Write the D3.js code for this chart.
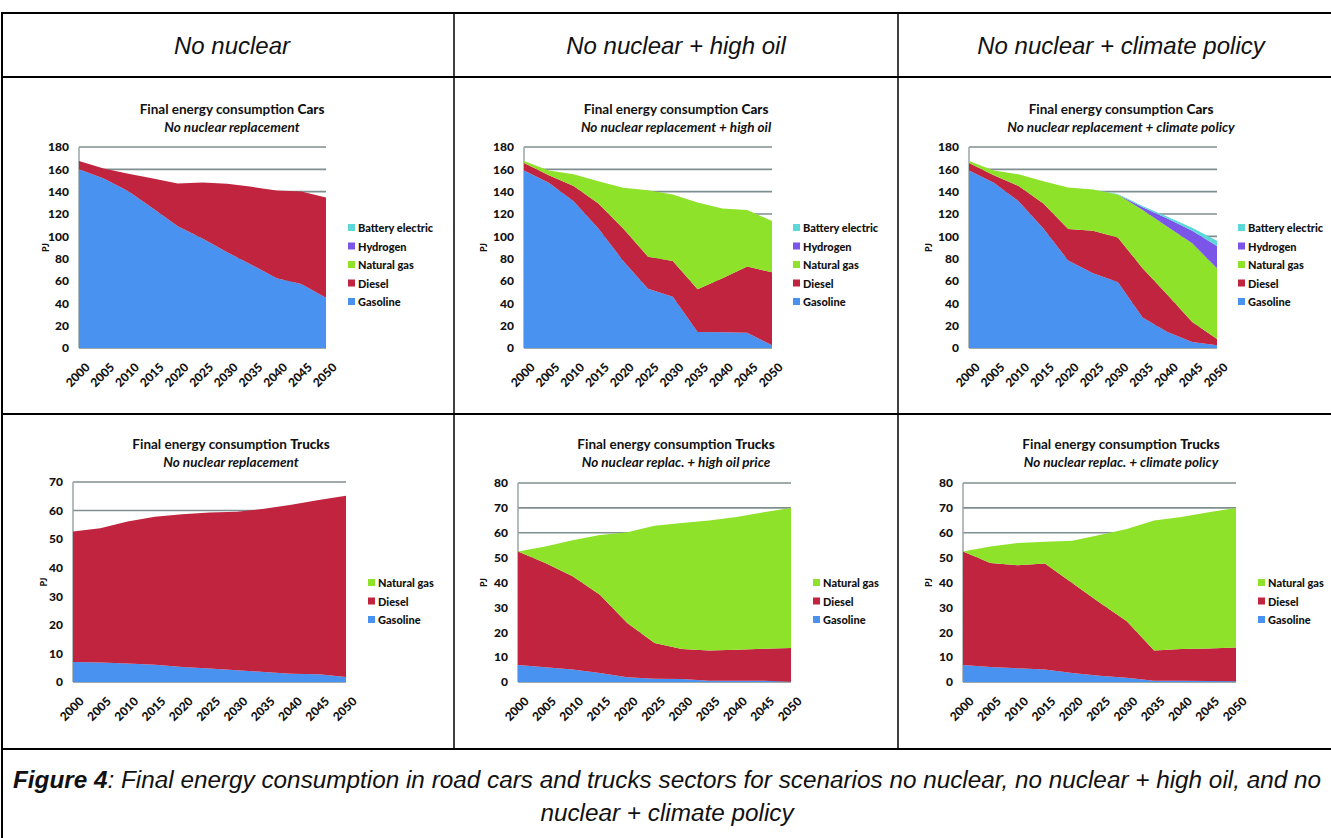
<!DOCTYPE html>
<html>
<head>
<meta charset="utf-8">
<script src="https://cdn.jsdelivr.net/npm/d3@7"></script>
<style>
  body { margin: 0; background: #fff; }
  svg { display: block; }
  .chart text { font-family: Lato, "Open Sans", sans-serif; fill: #111; }
  .cell text { font-family: "Liberation Sans", Arial, sans-serif; fill: #111; }
</style>
</head>
<body>
<svg width="1331" height="838"></svg>
<script>
// years on the x axis
var years = [2000, 2005, 2010, 2015, 2020, 2025, 2030, 2035, 2040, 2045, 2050];

// series names, bottom to top of the stack
var seriesNames = ["Gasoline", "Diesel", "Natural gas", "Hydrogen", "Battery electric"];
var truckSeries = ["Gasoline", "Diesel", "Natural gas"];

var headers = ["No nuclear", "No nuclear + high oil", "No nuclear + climate policy"];

// cars - no nuclear replacement (PJ)
var carsNN_gasoline = [160, 151.7, 140.4, 125, 109, 98, 85.7, 74.4, 62.5, 57.4, 45];
var carsNN_diesel   = [7.5, 9, 15.6, 26.7, 38.3, 50.2, 61.3, 69.9, 78.5, 82.7, 89.8];
var carsNN_gas      = [0, 0, 0, 0, 0, 0, 0, 0, 0, 0, 0];
var carsNN_h2       = [0, 0, 0, 0, 0, 0, 0, 0, 0, 0, 0];
var carsNN_bev      = [0, 0, 0, 0, 0, 0, 0, 0, 0, 0, 0];

// cars - no nuclear + high oil
var carsHO_gasoline = [159, 148, 131.5, 107, 78, 53, 46, 14.3, 14, 13.7, 2.4];
var carsHO_diesel   = [6.7, 6.7, 13.5, 22.4, 29, 28.8, 32, 38.4, 48.5, 59.3, 65.4];
var carsHO_gas      = [1.8, 4.3, 10.6, 20, 36.4, 59.5, 59.5, 77.6, 62.5, 50.5, 45.9];
var carsHO_h2       = [0, 0, 0, 0, 0, 0, 0, 0, 0, 0, 0];
var carsHO_bev      = [0, 0, 0, 0, 0, 0, 0, 0, 0, 0, 0];

// cars - no nuclear + climate policy
var carsCP_gasoline = [159, 148, 131.5, 107, 78.3, 67, 59, 27.4, 14.3, 5.4, 2.4];
var carsCP_diesel   = [6.7, 6.7, 13.5, 22.4, 28.2, 38, 40, 44, 33.3, 17.8, 5.6];
var carsCP_gas      = [1.8, 4.3, 10.6, 20, 37.2, 37, 38.5, 52.1, 61, 70.5, 63.4];
var carsCP_h2       = [0, 0, 0, 0, 0, 0, 0, 2.5, 7.4, 11.3, 19.9];
var carsCP_bev      = [0, 0, 0, 0, 0, 0, 0.5, 1.2, 1.5, 2.7, 4.7];

// trucks - no nuclear replacement
var trucksNN_gasoline = [7, 6.8, 6.5, 6, 5.25, 4.7, 4.1, 3.5, 2.9, 2.7, 1.75];
var trucksNN_diesel   = [45.7, 47, 49.7, 51.8, 53.45, 54.6, 55.5, 57.1, 59.1, 61, 63.45];
var trucksNN_gas      = [0, 0, 0, 0, 0, 0, 0, 0, 0, 0, 0];

// trucks - no nuclear + high oil price
var trucksHO_gasoline = [6.8, 5.9, 5, 3.6, 1.9, 1.3, 1.2, 0.5, 0.5, 0.5, 0.1];
var trucksHO_diesel   = [45.7, 41.9, 37.5, 31.5, 21.8, 14.4, 12.1, 12.2, 12.5, 12.9, 13.6];
var trucksHO_gas      = [0, 6.7, 14.5, 24, 36.5, 47.1, 50.6, 52.2, 53.3, 54.8, 56.3];

// trucks - no nuclear + climate policy
var trucksCP_gasoline = [6.8, 6, 5.5, 5, 3.6, 2.5, 1.7, 0.5, 0.5, 0.4, 0.3];
var trucksCP_diesel   = [45.7, 41.8, 41.4, 42.6, 36.2, 29.5, 22.7, 12.2, 12.8, 13.1, 13.6];
var trucksCP_gas      = [0, 6.7, 9, 8.8, 17, 27.1, 37.1, 52.2, 53, 54.7, 56.1];

var colors = {
    "Gasoline": "#4a92f0",
    "Diesel": "#c0243f",
    "Natural gas": "#8fe22a",
    "Hydrogen": "#7a55e8",
    "Battery electric": "#5cd8d8"
};

function rows(keys, cols) {
    return years.map(function(y, i) {
        var r = { year: y };
        keys.forEach(function(k, j) { r[k] = cols[j][i]; });
        return r;
    });
}

var panels = [
    { title: "Cars", sub: "No nuclear replacement", keys: seriesNames,
      data: rows(seriesNames, [carsNN_gasoline, carsNN_diesel, carsNN_gas, carsNN_h2, carsNN_bev]),
      max: 180, step: 20, x0: 79, x1: 326, y0: 147, y1: 348, cx: 232, ty: 110, legX: 348, legY: 228, pjX: 49 },
    { title: "Cars", sub: "No nuclear replacement + high oil", keys: seriesNames,
      data: rows(seriesNames, [carsHO_gasoline, carsHO_diesel, carsHO_gas, carsHO_h2, carsHO_bev]),
      max: 180, step: 20, x0: 524, x1: 772, y0: 147, y1: 348, cx: 676, ty: 110, legX: 793, legY: 228, pjX: 487 },
    { title: "Cars", sub: "No nuclear replacement + climate policy", keys: seriesNames,
      data: rows(seriesNames, [carsCP_gasoline, carsCP_diesel, carsCP_gas, carsCP_h2, carsCP_bev]),
      max: 180, step: 20, x0: 969, x1: 1217, y0: 147, y1: 348, cx: 1121, ty: 110, legX: 1238, legY: 228, pjX: 932 },
    { title: "Trucks", sub: "No nuclear replacement", keys: truckSeries,
      data: rows(truckSeries, [trucksNN_gasoline, trucksNN_diesel, trucksNN_gas]),
      max: 70, step: 10, x0: 73, x1: 346, y0: 482, y1: 682, cx: 231, ty: 445, legX: 368, legY: 583, pjX: 47 },
    { title: "Trucks", sub: "No nuclear replac. + high oil price", keys: truckSeries,
      data: rows(truckSeries, [trucksHO_gasoline, trucksHO_diesel, trucksHO_gas]),
      max: 80, step: 10, x0: 518, x1: 791, y0: 483, y1: 682, cx: 676, ty: 445, legX: 813, legY: 583, pjX: 487 },
    { title: "Trucks", sub: "No nuclear replac. + climate policy", keys: truckSeries,
      data: rows(truckSeries, [trucksCP_gasoline, trucksCP_diesel, trucksCP_gas]),
      max: 80, step: 10, x0: 963, x1: 1236, y0: 483, y1: 682, cx: 1121, ty: 445, legX: 1258, legY: 583, pjX: 932 }
];

var svg = d3.select("svg");

// table frame
var cell = svg.append("g").attr("class", "cell");
cell.append("rect").attr("x", 2).attr("y", 13).attr("width", 1360).attr("height", 900)
    .attr("fill", "none").attr("stroke", "#000").attr("stroke-width", 2);
[77, 414, 749].forEach(function(y) {
    cell.append("line").attr("x1", 2).attr("x2", 1331).attr("y1", y).attr("y2", y)
        .attr("stroke", "#000").attr("stroke-width", 2);
});
[454, 898].forEach(function(x) {
    cell.append("line").attr("x1", x).attr("x2", x).attr("y1", 13).attr("y2", 749)
        .attr("stroke", "#000").attr("stroke-width", 1.5);
});
var headerX = [232, 676, 1121];
headers.forEach(function(h, i) {
    cell.append("text").attr("x", headerX[i]).attr("y", 54).attr("text-anchor", "middle")
        .attr("font-size", 24).attr("font-style", "italic").text(h);
});
var cap1 = cell.append("text").attr("x", 667).attr("y", 788).attr("text-anchor", "middle")
    .attr("font-size", 24.3).attr("font-style", "italic");
cap1.append("tspan").attr("font-weight", "bold").text("Figure 4");
cap1.append("tspan").text(": Final energy consumption in road cars and trucks sectors for scenarios no nuclear, no nuclear + high oil, and no");
cell.append("text").attr("x", 667).attr("y", 821).attr("text-anchor", "middle")
    .attr("font-size", 24.3).attr("font-style", "italic").text("nuclear + climate policy");

panels.forEach(function(p) {
    var g = svg.append("g").attr("class", "chart");

    var x = d3.scaleLinear().domain([2000, 2050]).range([p.x0, p.x1]);
    var y = d3.scaleLinear().domain([0, p.max]).range([p.y1, p.y0]);
    var ticks = d3.range(0, p.max + 1, p.step);

    // gridlines
    g.append("g").selectAll("line").data(ticks).enter().append("line")
        .attr("x1", p.x0).attr("x2", p.x1)
        .attr("y1", function(d) { return y(d); }).attr("y2", function(d) { return y(d); })
        .attr("stroke", "#7f8f8f").attr("stroke-width", 1.6);
    g.append("line").attr("x1", p.x0).attr("x2", p.x0).attr("y1", p.y0).attr("y2", p.y1)
        .attr("stroke", "#9aa6a6").attr("stroke-width", 1.5);

    var stack = d3.stack().keys(p.keys);
    var layers = stack(p.data);
    var area = d3.area()
        .x(function(d) { return x(d.data.year); })
        .y0(function(d) { return y(d[0]); })
        .y1(function(d) { return y(d[1]); });

    g.append("g").selectAll("path").data(layers).enter().append("path")
        .attr("d", area)
        .attr("fill", function(d) { return colors[d.key]; });

    // y axis labels
    var yAxis = d3.axisLeft(y).tickValues(ticks).tickSize(0).tickPadding(10);
    var ya = g.append("g").attr("transform", "translate(" + p.x0 + ",0)").call(yAxis);
    ya.select(".domain").remove();
    ya.selectAll("text").attr("font-size", 12).attr("font-weight", 900)
        .attr("font-family", "Lato, sans-serif").attr("fill", "#111");

    // x axis labels
    var xAxis = d3.axisBottom(x).tickValues(years).tickSize(0).tickFormat(d3.format("d"));
    var xa = g.append("g").attr("transform", "translate(0," + p.y1 + ")").call(xAxis);
    xa.select(".domain").remove();
    xa.selectAll("text")
        .attr("font-size", 12).attr("font-weight", 900)
        .attr("font-family", "Lato, sans-serif").attr("fill", "#111")
        .attr("text-anchor", "end")
        .attr("dy", "0.35em")
        .attr("transform", "translate(6,15) rotate(-45)");

    // PJ label
    g.append("text")
        .attr("transform", "translate(" + p.pjX + "," + ((p.y0 + p.y1) / 2) + ") rotate(-90)")
        .attr("text-anchor", "middle").attr("font-size", 9).attr("font-weight", 900).text("PJ");

    // titles
    var t = g.append("text").attr("x", p.cx).attr("y", p.ty + 4).attr("text-anchor", "middle")
        .attr("font-size", 13.5).attr("font-weight", 700);
    t.append("tspan").text("Final energy consumption ");
    t.append("tspan").attr("font-weight", 900).text(p.title);
    g.append("text").attr("x", p.cx).attr("y", p.ty + 22).attr("text-anchor", "middle")
        .attr("font-size", 13.5).attr("font-weight", 700).attr("font-style", "italic").text(p.sub);

    // legend
    var legendKeys = p.keys.slice().reverse();
    var lg = g.append("g").selectAll("g").data(legendKeys).enter().append("g")
        .attr("transform", function(d, i) { return "translate(" + p.legX + "," + (p.legY + i * 18.5) + ")"; });
    lg.append("rect").attr("x", 0).attr("y", -4).attr("width", 7).attr("height", 7)
        .attr("fill", function(d) { return colors[d]; });
    lg.append("text").attr("x", 10).attr("y", 4).attr("font-size", 11).attr("font-weight", 900)
        .text(function(d) { return d; });
});
</script>
</body>
</html>
